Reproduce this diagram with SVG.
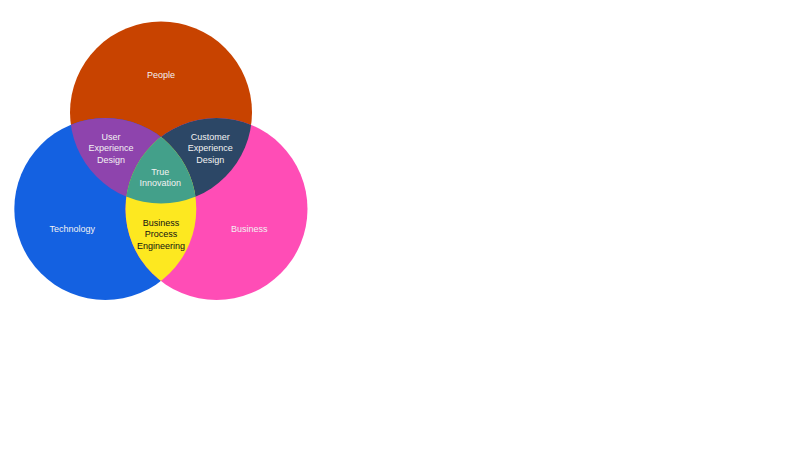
<svg xmlns="http://www.w3.org/2000/svg" width="800" height="450" viewBox="0 0 800 450">
<style>
text{font-family:"Liberation Sans",Arial,sans-serif;font-size:9px;text-anchor:middle;fill:#f2f2f2}
text.dark{fill:#111}
</style>
<defs>
<clipPath id="cpP"><circle cx="161" cy="112.5" r="91"/></clipPath>
<clipPath id="cpT"><circle cx="105.3" cy="209" r="91"/></clipPath>
<clipPath id="cpB"><circle cx="216.5" cy="209" r="91"/></clipPath>
</defs>
<rect width="800" height="450" fill="#ffffff"/>
<g id="people"><circle cx="161" cy="112.5" r="91" fill="#C84300"/></g>
<g id="technology"><circle cx="105.3" cy="209" r="91" fill="#1461E1"/></g>
<g id="business"><circle cx="216.5" cy="209" r="91" fill="#FF4DB6"/></g>
<g id="ux"><circle cx="105.3" cy="209" r="91" fill="#8E44AD" clip-path="url(#cpP)"/></g>
<g id="cx"><circle cx="216.5" cy="209" r="91" fill="#2C4766" clip-path="url(#cpP)"/></g>
<g id="bpe"><circle cx="216.5" cy="209" r="91" fill="#FDE820" clip-path="url(#cpT)"/></g>
<g id="innovation"><g clip-path="url(#cpP)"><circle cx="216.5" cy="209" r="91" fill="#43A08A" clip-path="url(#cpT)"/></g></g>
<g id="connectors"></g>
<g id="labels">
<text x="161" y="78.3">People</text>
<text x="111" y="140">User</text>
<text x="111" y="151.3">Experience</text>
<text x="111" y="162.6">Design</text>
<text x="210.3" y="140">Customer</text>
<text x="210.3" y="151.3">Experience</text>
<text x="210.3" y="162.6">Design</text>
<text x="160.3" y="174.6">True</text>
<text x="160.3" y="186">Innovation</text>
<text x="72.3" y="231.6">Technology</text>
<text x="249.3" y="231.6">Business</text>
<text class="dark" x="161" y="226">Business</text>
<text class="dark" x="161" y="237.3">Process</text>
<text class="dark" x="161" y="248.6">Engineering</text>
</g>
</svg>
